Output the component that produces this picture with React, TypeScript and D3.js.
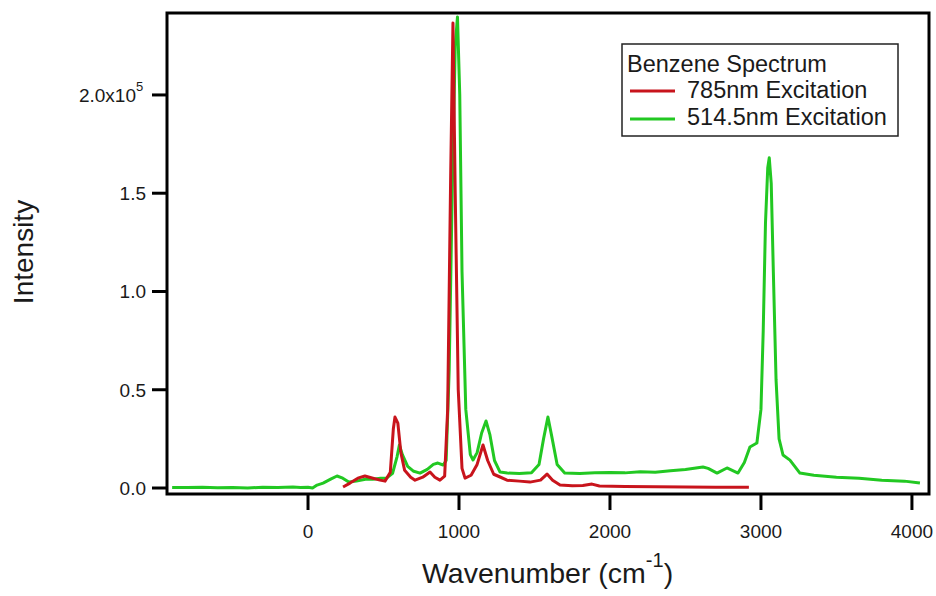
import React from "react";
import * as d3 from "d3";

const greenX = [-900,-800,-700,-600,-500,-400,-300,-200,-100,-50,0,30,60,100,150,192,230,270,320,380,430,480,520,560,590,605,625,660,700,742,790,830,860,895,915,935,955,975,990,1005,1020,1045,1075,1093,1120,1150,1179,1205,1235,1272,1320,1400,1480,1530,1560,1589,1615,1650,1700,1800,1900,2000,2100,2200,2300,2400,2500,2616,2650,2709,2775,2848,2890,2927,2973,3000,3015,3030,3045,3055,3068,3082,3100,3120,3146,3192,3258,3350,3500,3650,3800,3950,4053];
const greenY = [300,200,400,100,300,0,400,200,500,200,400,0,1500,2500,4500,6100,5000,3000,3500,4500,4500,5000,5000,7500,16000,21900,17000,11000,8500,7600,9500,12000,12700,11700,14000,60000,150000,225000,239700,200000,110000,40000,17000,14250,18000,28000,34100,27000,14000,8100,7600,7400,7800,12000,25000,36100,26000,12000,7600,7400,7800,7900,7700,8300,8000,8800,9400,10700,10000,7600,10200,7600,13000,20900,22900,40000,80000,135000,163000,168000,155000,110000,55000,25000,16800,14200,7600,6500,5500,5000,4000,3500,2500];

const redX = [232,278,330,377,430,477,510,545,565,576,595,615,640,680,709,760,808,840,874,905,925,945,960,975,995,1020,1040,1080,1120,1159,1190,1230,1272,1318,1400,1470,1540,1583,1620,1669,1750,1820,1881,1930,2100,2300,2500,2700,2920];
const redY = [500,2500,5000,6100,5000,4000,3500,8000,30000,36100,33000,18000,9000,5500,4000,5500,8100,5500,4000,6000,40000,160000,236600,150000,50000,10000,5000,6500,12000,21900,14000,7000,5600,4000,3500,3000,4000,7100,4000,1500,1200,1300,2000,1000,800,600,500,400,400];

const xTicks = [0, 1000, 2000, 3000, 4000];
const yTicks = [0, 50000, 100000, 150000, 200000];
const yTickLabels = ["0.0", "0.5", "1.0", "1.5", "2.0x10"];
const seriesNames = ["785nm Excitation", "514.5nm Excitation"];
const legendTitle = "Benzene Spectrum";

const RED = "#c8141c";
const GREEN = "#22c822";

export default function App() {
  const L = 167, R = 929, T = 13, B = 494;
  const x = d3.scaleLinear().domain([-934, 4113]).range([L, R]);
  const y = d3.scaleLinear().domain([-3050, 241700]).range([B, T]);
  const line = d3.line<[number, number]>().x(d => x(d[0])).y(d => y(d[1]));
  const green = greenX.map((v, i) => [v, greenY[i]] as [number, number]);
  const red = redX.map((v, i) => [v, redY[i]] as [number, number]);
  const font = "Liberation Sans, Arial, sans-serif";
  const txt = "#1a1a1a";
  return (
    <svg width={936} height={596} style={{ position: "absolute", left: 0, top: 0, background: "#fff" }} fontFamily={font}>
      <rect x={0} y={0} width={936} height={596} fill="#fff" />
      <path d={line(green) || ""} fill="none" stroke={GREEN} strokeWidth={3} strokeLinejoin="round" />
      <path d={line(red) || ""} fill="none" stroke={RED} strokeWidth={3} strokeLinejoin="round" />
      <rect x={L} y={T} width={R - L} height={B - T} fill="none" stroke="#000" strokeWidth={3} />
      {xTicks.map(t => (
        <g key={t}>
          <line x1={x(t)} x2={x(t)} y1={B} y2={B + 16} stroke="#000" strokeWidth={3} />
          <text x={x(t)} y={538} textAnchor="middle" fontSize={19} fill={txt}>{t}</text>
        </g>
      ))}
      {yTicks.map((t, i) => (
        <g key={t}>
          <line x1={L - 15} x2={L} y1={y(t)} y2={y(t)} stroke="#000" strokeWidth={3} />
          <text x={i === 4 ? 136 : 146} y={y(t) + 7} textAnchor="end" fontSize={19} fill={txt}>{yTickLabels[i]}</text>
          {i === 4 && <text x={136} y={y(t) - 4} fontSize={13} fill={txt}>5</text>}
        </g>
      ))}
      <text transform="translate(33,252) rotate(-90)" textAnchor="middle" fontSize={28} fill={txt}>Intensity</text>
      <text x={422} y={583} fontSize={28.5} fill={txt}>
        Wavenumber (cm<tspan dy={-16} fontSize={20}>-1</tspan><tspan dy={16} fontSize={28.5}>)</tspan>
      </text>
      <rect x={622} y={44} width={276} height={92} fill="#fff" stroke="#222" strokeWidth={1.5} />
      <text x={627} y={72} fontSize={23.5} fill={txt}>{legendTitle}</text>
      <line x1={630} x2={675} y1={91} y2={91} stroke={RED} strokeWidth={3} />
      <text x={687} y={98} fontSize={23.5} fill={txt}>{seriesNames[0]}</text>
      <line x1={630} x2={675} y1={119} y2={119} stroke={GREEN} strokeWidth={3} />
      <text x={687} y={125} fontSize={23.5} fill={txt}>{seriesNames[1]}</text>
    </svg>
  );
}
